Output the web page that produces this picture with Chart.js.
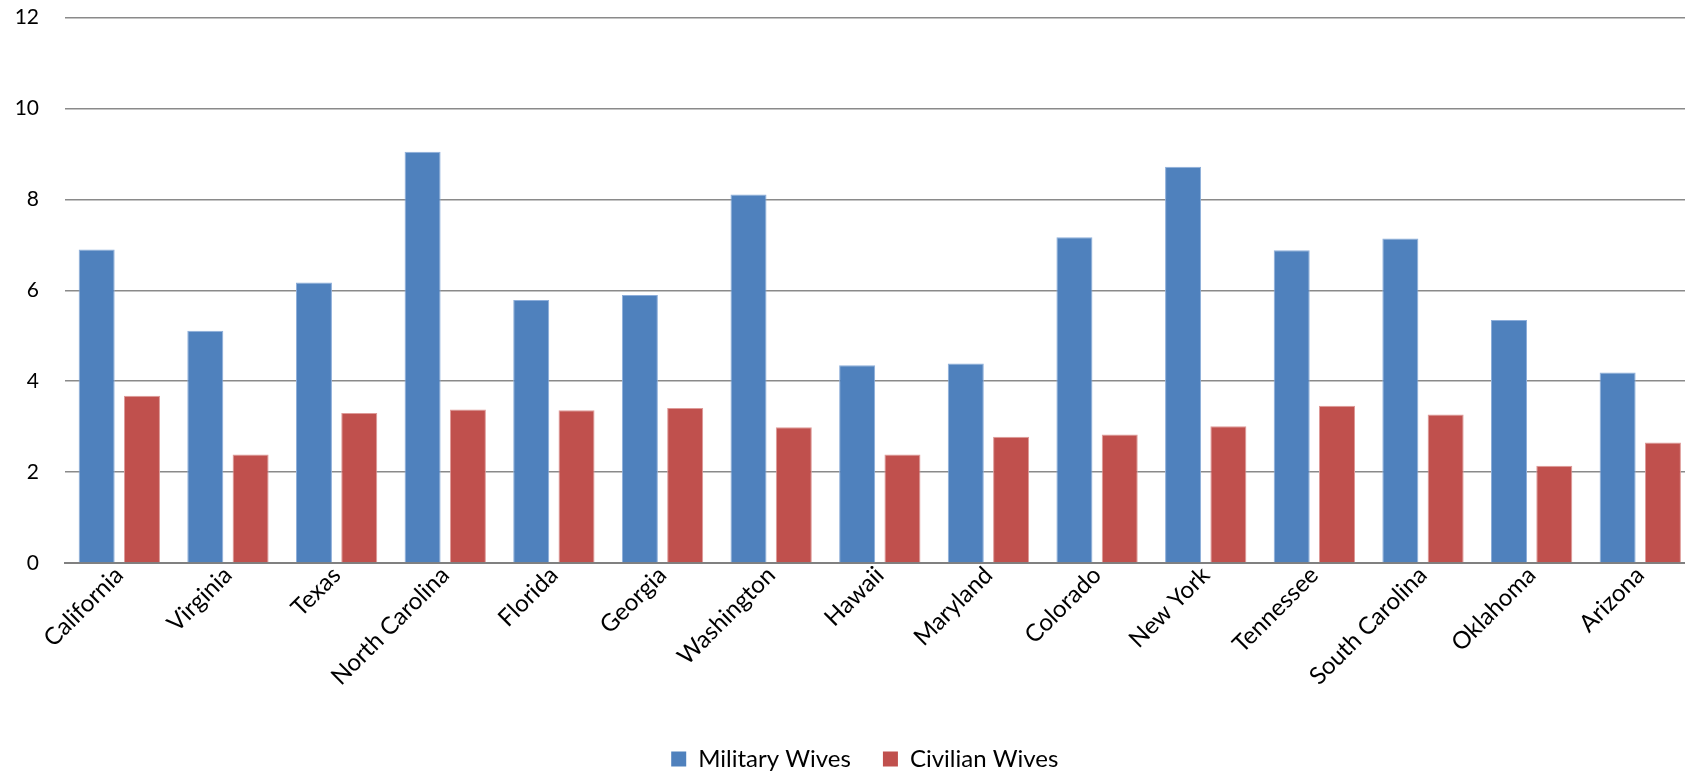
<!DOCTYPE html>
<html>
<head>
<meta charset="utf-8">
<script src="https://cdn.jsdelivr.net/npm/chart.js@4.4.0/dist/chart.umd.min.js"></script>
<style>
  html, body { margin: 0; padding: 0; background: #fff; width: 1685px; height: 773px; overflow: hidden; }
  #wrap { position: absolute; left: 0; top: 0; width: 1700px; height: 773px; }
</style>
</head>
<body>
<div id="wrap"><canvas id="chart" width="1700" height="773"></canvas></div>
<script>
// States, in the order they appear along the axis
const states = [
  'California', 'Virginia', 'Texas', 'North Carolina', 'Florida',
  'Georgia', 'Washington', 'Hawaii', 'Maryland', 'Colorado',
  'New York', 'Tennessee', 'South Carolina', 'Oklahoma', 'Arizona'
];

// Rates per state for each group
const militaryWives = [6.90, 5.11, 6.17, 9.05, 5.79, 5.90, 8.11, 4.35, 4.39, 7.17, 8.72, 6.88, 7.14, 5.35, 4.19];
const civilianWives = [3.68, 2.39, 3.30, 3.38, 3.36, 3.41, 2.99, 2.39, 2.78, 2.83, 3.01, 3.46, 3.27, 2.14, 2.65];

// Value axis
const yMin = 0;
const yMax = 12;
const yStep = 2;

const FONT = 'Lato, "Noto Sans", sans-serif';

// Nudges the legend row sideways so it sits centred under the plot and labels
const legendShift = {
  id: 'legendShift',
  afterLayout(chart, args, opts) {
    const lg = chart.legend;
    if (lg) { lg.left += opts.dx; lg.right += opts.dx; }
  }
};

new Chart(document.getElementById('chart'), {
  type: 'bar',
  data: {
    labels: states,
    datasets: [
      {
        label: 'Military Wives',
        data: militaryWives,
        backgroundColor: '#4F81BD',
        borderColor: '#8DAEDA',
        borderWidth: 1,
        borderSkipped: 'start'
      },
      {
        label: 'Civilian Wives',
        data: civilianWives,
        backgroundColor: '#C0504D',
        borderColor: '#DE9A98',
        borderWidth: 1,
        borderSkipped: 'start'
      }
    ]
  },
  plugins: [legendShift],
  options: {
    responsive: false,
    animation: false,
    events: [],
    layout: { padding: { left: 0, right: 5.4, top: 17.7, bottom: -8 } },
    datasets: {
      bar: { categoryPercentage: 0.834, barPercentage: 0.795 }
    },
    scales: {
      x: {
        grid: { display: false },
        border: { display: true, color: '#808080', width: 2 },
        ticks: {
          autoSkip: false,
          minRotation: 45,
          maxRotation: 45,
          padding: -10,
          color: '#000',
          font: { family: FONT, size: 24 }
        },
        afterFit(scale) { scale.height = 152; }
      },
      y: {
        min: yMin,
        max: yMax,
        border: { display: false },
        grid: {
          color: '#8a8a8a',
          lineWidth: 1.5,
          drawTicks: true,
          tickLength: 24,
          tickColor: 'rgba(0,0,0,0)'
        },
        ticks: {
          stepSize: yStep,
          padding: 2,
          color: '#000',
          font: { family: FONT, size: 21 }
        },
        afterFit(scale) { scale.width = 65; }
      }
    },
    plugins: {
      tooltip: { enabled: false },
      title: { display: false },
      legendShift: { dx: 17.5 },
      legend: {
        position: 'bottom',
        labels: {
          boxWidth: 15,
          boxHeight: 15,
          padding: 32,
          color: '#000',
          font: { family: FONT, size: 24 },
          generateLabels(chart) {
            const items = Chart.defaults.plugins.legend.labels.generateLabels(chart);
            items.forEach(it => { it.lineWidth = 0; });
            return items;
          }
        }
      }
    }
  }
});
</script>
</body>
</html>
